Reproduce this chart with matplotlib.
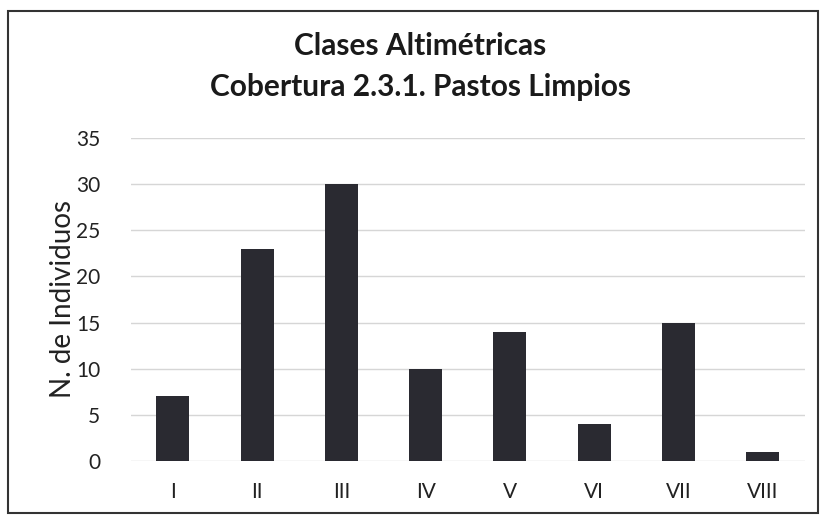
import matplotlib.pyplot as plt
from matplotlib.patches import Rectangle

categories = ["I", "II", "III", "IV", "V", "VI", "VII", "VIII"]
individuos = [7, 23, 30, 10, 14, 4, 15, 1]
yticks = [0, 5, 10, 15, 20, 25, 30, 35]

plt.rcParams['font.family'] = ['Lato', 'DejaVu Sans']

fig = plt.figure(figsize=(8.22, 5.19), dpi=100)
ax = fig.add_axes([0.159, 0.112, 0.820, 0.622])

x = range(len(categories))
ax.bar(x, individuos, width=0.39, color="#2a2a31", zorder=3)
ax.set_xlim(-0.5, len(categories) - 0.5)
ax.set_ylim(0, 35)
ax.set_yticks(yticks)
ax.set_xticks(list(x))
ax.set_xticklabels(categories)
ax.tick_params(axis='both', length=0, labelsize=15, colors="#222222")
ax.tick_params(axis='y', pad=22)
ax.tick_params(axis='x', pad=15)
ax.grid(axis='y', color="#d6d6d6", linewidth=1, zorder=0)
for s in ax.spines.values():
    s.set_visible(False)
ax.set_ylabel("N. de Individuos", fontsize=20, color="#222222", labelpad=0)

fig.text(0.511, 0.912, "Clases Altimétricas", ha='center', va='center',
         fontsize=21.5, fontweight='bold', color="#1a1a1a")
fig.text(0.511, 0.833, "Cobertura 2.3.1. Pastos Limpios", ha='center', va='center',
         fontsize=21.5, fontweight='bold', color="#1a1a1a")

# frame around the chart
fig.patches.append(Rectangle((0.010, 0.012), 0.985, 0.966, transform=fig.transFigure,
                             fill=False, edgecolor="#333333", linewidth=1.5))

fig.savefig("out.png", dpi=100, facecolor="white")
